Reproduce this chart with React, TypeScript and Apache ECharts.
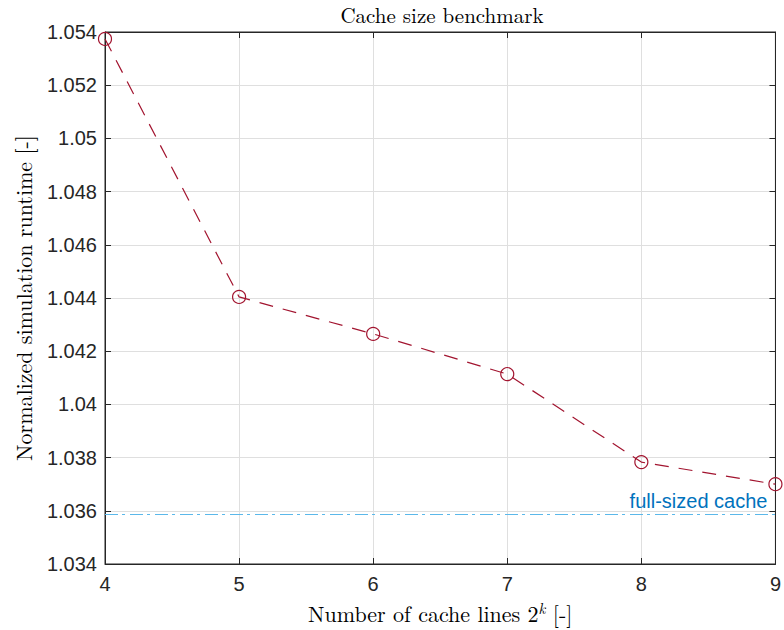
import React, { useEffect, useRef } from "react";
import * as echarts from "echarts";

const cacheLinesExp = [4, 5, 6, 7, 8, 9];
const runtime = [1.05374, 1.04404, 1.04265, 1.04114, 1.03783, 1.037];
const fullCacheRuntime = 1.03588;
const yTicks = [1.034, 1.036, 1.038, 1.04, 1.042, 1.044, 1.046, 1.048, 1.05, 1.052, 1.054];

const AXIS = "#262626";
const GRIDC = "#dfdfdf";
const RED = "#A2142F";
const BLUE = "#0072BD";
const LIGHTBLUE = "#5BB8EA";
const SANS = "'Liberation Sans', Arial, Helvetica, sans-serif";
const SERIF = "'Latin Modern Roman', 'Liberation Serif', 'DejaVu Serif', serif";

export default function App() {
  const ref = useRef<HTMLDivElement>(null);
  useEffect(() => {
    const chart = echarts.init(ref.current!, null, { renderer: "svg" });
    const yMin = yTicks[0];
    const yMax = yTicks[yTicks.length - 1];
    const commonX = {
      type: "value" as const,
      min: cacheLinesExp[0],
      max: cacheLinesExp[cacheLinesExp.length - 1],
      interval: 1,
    };
    const commonY = {
      type: "value" as const,
      min: yMin,
      max: yMax,
      interval: 0.002,
    };
    chart.setOption({
      animation: false,
      backgroundColor: "#ffffff",
      title: {
        text: "Cache size benchmark",
        left: 442,
        textAlign: "center",
        top: 3,
        padding: 0,
        textStyle: { fontFamily: SERIF, fontSize: 21, fontWeight: "normal", color: "#000" },
      },
      grid: {
        left: 105,
        right: 5,
        top: 32,
        bottom: 66,
        show: true,
        borderColor: AXIS,
        borderWidth: 1,
        backgroundColor: "#fff",
      },
      xAxis: [
        {
          ...commonX,
          position: "bottom",
          name: "{n|Number of cache lines 2}{s|k}{n| [-]}",
          nameLocation: "middle",
          nameGap: 36,
          nameTextStyle: {
            rich: {
              n: { fontFamily: SERIF, fontSize: 22, color: "#000" },
              s: { fontFamily: SERIF, fontSize: 15, fontStyle: "italic", color: "#000", verticalAlign: "bottom", padding: [0, 0, 10, 0] },
            },
          },
          axisLine: { show: true, onZero: false, lineStyle: { color: AXIS, width: 1 } },
          axisTick: { show: true, inside: true, length: 6, lineStyle: { color: AXIS } },
          axisLabel: {
            color: AXIS,
            fontFamily: SANS,
            fontSize: 20,
            margin: 10,
            formatter: (v: number) => String(v),
          },
          splitLine: { show: true, lineStyle: { color: GRIDC, width: 1 } },
        },
        {
          ...commonX,
          position: "top",
          axisLine: { show: true, onZero: false, lineStyle: { color: AXIS, width: 1 } },
          axisTick: { show: true, inside: true, length: 6, lineStyle: { color: AXIS } },
          axisLabel: { show: false },
          splitLine: { show: false },
        },
      ],
      yAxis: [
        {
          ...commonY,
          position: "left",
          name: "Normalized simulation runtime [-]",
          nameLocation: "middle",
          nameGap: 72,
          nameTextStyle: { fontFamily: SERIF, fontSize: 22, color: "#000" },
          axisLine: { show: true, onZero: false, lineStyle: { color: AXIS, width: 1 } },
          axisTick: { show: true, inside: true, length: 6, lineStyle: { color: AXIS } },
          axisLabel: {
            color: AXIS,
            fontFamily: SANS,
            fontSize: 20,
            margin: 8,
            formatter: (v: number) => String(parseFloat(v.toFixed(3))),
          },
          splitLine: { show: true, lineStyle: { color: GRIDC, width: 1 } },
        },
        {
          ...commonY,
          position: "right",
          axisLine: { show: true, onZero: false, lineStyle: { color: AXIS, width: 1 } },
          axisTick: { show: true, inside: true, length: 6, lineStyle: { color: AXIS } },
          axisLabel: { show: false },
          splitLine: { show: false },
        },
      ],
      series: [
        {
          type: "line",
          xAxisIndex: 0,
          yAxisIndex: 0,
          data: cacheLinesExp.map((x, i) => [x, runtime[i]]),
          symbol: "circle",
          symbolSize: 13,
          showAllSymbol: true,
          clip: false,
          lineStyle: { color: RED, width: 1.2, type: [14, 10] },
          itemStyle: { color: "rgba(255,255,255,0)", borderColor: RED, borderWidth: 1.2 },
          z: 5,
          markLine: {
            silent: true,
            symbol: "none",
            precision: 6,
            data: [{ yAxis: fullCacheRuntime }],
            itemStyle: { color: LIGHTBLUE },
            lineStyle: { color: LIGHTBLUE, width: 1.1, type: [13, 4, 3, 5] },
            label: {
              show: true,
              position: "insideEndTop",
              formatter: "full-sized cache",
              color: BLUE,
              fontFamily: SANS,
              fontSize: 20,
              distance: [8, 3],
            },
          },
        },
      ],
    });
    return () => chart.dispose();
  }, []);
  return (
    <div
      ref={ref}
      style={{ position: "fixed", left: 0, top: 0, width: 784, height: 630 }}
    />
  );
}
